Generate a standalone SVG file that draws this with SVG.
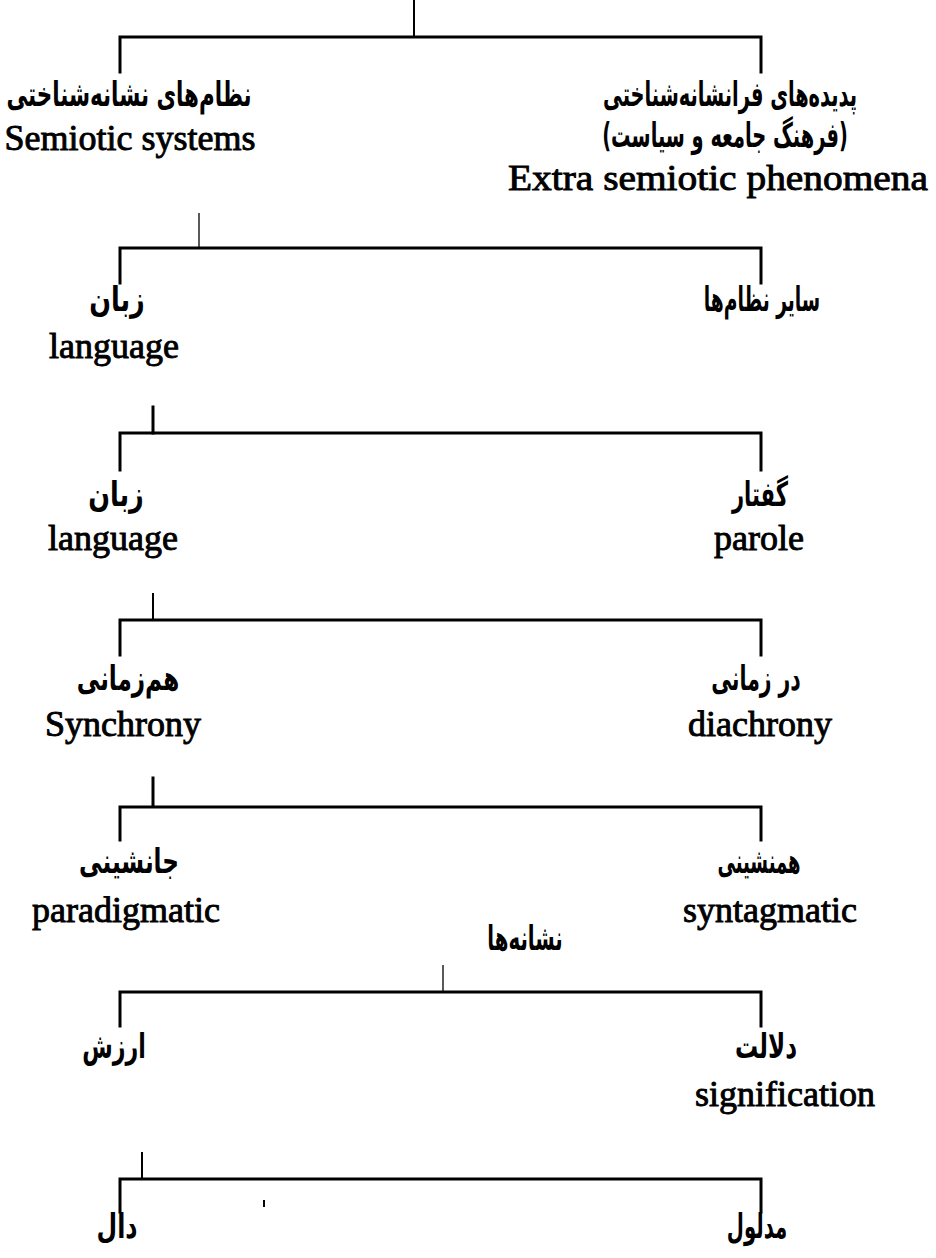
<svg xmlns="http://www.w3.org/2000/svg" width="936" height="1258" viewBox="0 0 936 1258">
<style>
.ln{stroke:#000;stroke-width:3;fill:none;stroke-linecap:square}
.st{stroke:#000;stroke-width:2;fill:none}
.th{stroke:#000;stroke-width:1.3;fill:none}
.en{font-family:"Liberation Serif","Times New Roman",serif;font-size:36px;fill:#000;stroke:#000;stroke-width:0.9;text-anchor:middle}
.fa{font-family:"DejaVu Sans",sans-serif;font-size:34px;font-weight:bold;fill:#000;text-anchor:middle;direction:rtl}
</style>
<rect width="936" height="1258" fill="#fff"/>
<g id="connectors">
  <line class="st" x1="414" y1="0" x2="414" y2="37"/>
  <path class="ln" d="M120,72 V37 H761 V72"/>
  <line class="th" x1="199" y1="213" x2="199" y2="248"/>
  <path class="ln" d="M120,283 V248 H761 V283"/>
  <line class="ln" x1="153" y1="407" x2="153" y2="433"/>
  <path class="ln" d="M120,470 V433 H761 V470"/>
  <line class="st" x1="153" y1="593" x2="153" y2="620"/>
  <path class="ln" d="M120,655 V620 H761 V655"/>
  <line class="ln" x1="153" y1="778" x2="153" y2="806"/>
  <path class="ln" d="M120,840 V807 H761 V840"/>
  <line class="th" x1="443" y1="965" x2="443" y2="992"/>
  <path class="ln" d="M120,1026 V992 H761 V1026"/>
  <line class="st" x1="142" y1="1152" x2="142" y2="1179"/>
  <path class="ln" d="M120,1212 V1179 H761 V1212"/>
  <line class="st" x1="264" y1="1200" x2="264" y2="1207"/>
</g>
<g id="n-semiotic-systems">
  <text class="fa" transform="translate(129,106) scale(0.63,1)">نظام&#x200C;های نشانه&#x200C;شناختی</text>
  <text class="en" x="130" y="150">Semiotic systems</text>
</g>
<g id="n-extra-semiotic">
  <text class="fa" transform="translate(730,106) scale(0.57,1)">پدیده&#x200C;های فرانشانه&#x200C;شناختی</text>
  <text class="fa" transform="translate(725,147) scale(0.57,1)">(فرهنگ جامعه و سیاست)</text>
  <text class="en" x="718" y="190" textLength="420" lengthAdjust="spacingAndGlyphs">Extra semiotic phenomena</text>
</g>
<g id="n-language-1">
  <text class="fa" transform="translate(117,311) scale(0.75,1)">زبان</text>
  <text class="en" x="114" y="358">language</text>
</g>
<g id="n-other-systems">
  <text class="fa" transform="translate(762,311) scale(0.55,1)">سایر نظام&#x200C;ها</text>
</g>
<g id="n-language-2">
  <text class="fa" transform="translate(116,506) scale(0.75,1)">زبان</text>
  <text class="en" x="113" y="550">language</text>
</g>
<g id="n-parole">
  <text class="fa" transform="translate(760,506) scale(0.62,1)">گفتار</text>
  <text class="en" x="759" y="550">parole</text>
</g>
<g id="n-synchrony">
  <text class="fa" transform="translate(128,690) scale(0.68,1)">هم&#x200C;زمانی</text>
  <text class="en" x="123" y="736">Synchrony</text>
</g>
<g id="n-diachrony">
  <text class="fa" transform="translate(756,690) scale(0.6,1)">در زمانی</text>
  <text class="en" x="760" y="736">diachrony</text>
</g>
<g id="n-paradigmatic">
  <text class="fa" transform="translate(129,873) scale(0.68,1)">جانشینی</text>
  <text class="en" x="126" y="922">paradigmatic</text>
</g>
<g id="n-syntagmatic">
  <text class="fa" transform="translate(759,873) scale(0.53,1)">همنشینی</text>
  <text class="en" x="770" y="922">syntagmatic</text>
</g>
<g id="n-signs">
  <text class="fa" transform="translate(525,950) scale(0.58,1)">نشانه&#x200C;ها</text>
</g>
<g id="n-value">
  <text class="fa" transform="translate(114,1058) scale(0.65,1)">ارزش</text>
</g>
<g id="n-signification">
  <text class="fa" transform="translate(766,1058) scale(0.68,1)">دلالت</text>
  <text class="en" x="785" y="1106">signification</text>
</g>
<g id="n-signifier">
  <text class="fa" transform="translate(117,1238) scale(0.7,1)">دال</text>
</g>
<g id="n-signified">
  <text class="fa" transform="translate(757,1238) scale(0.58,1)">مدلول</text>
</g>
</svg>
